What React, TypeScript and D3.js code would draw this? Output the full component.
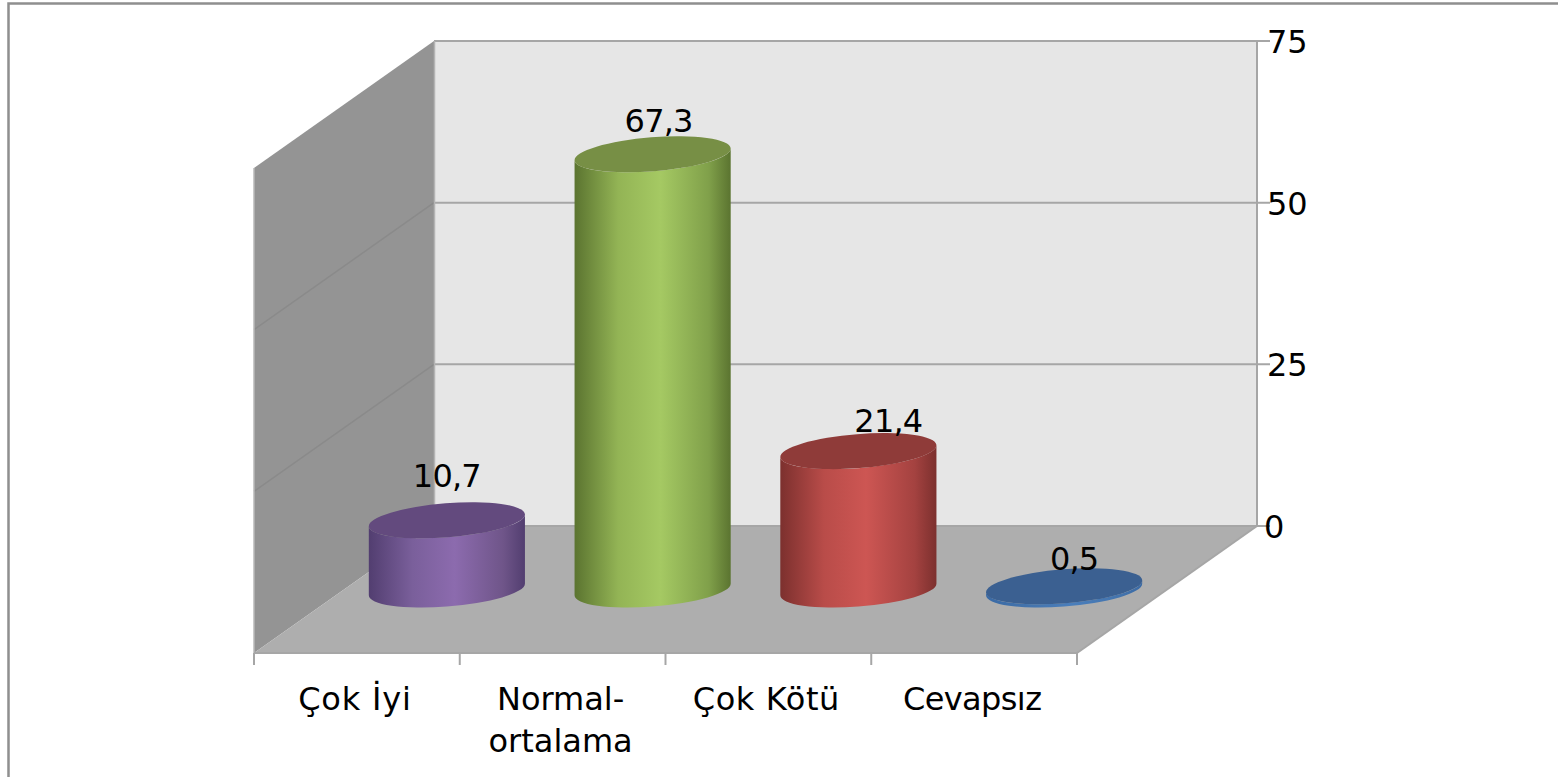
import React from "react";
import * as d3 from "d3";

const categories = ["Çok İyi", "Normal-\nortalama", "Çok Kötü", "Cevapsız"];
const values = [10.7, 67.3, 21.4, 0.5];
const valueLabels = ["10,7", "67,3", "21,4", "0,5"];
const yTicks = [0, 25, 50, 75];
const palettes = [
  { id: "p", top: "#634a7e", edge: "#523e70", side: "#7a5f9b", mid: "#8c6bae", right: "#6f5589" },
  { id: "g", top: "#778f45", edge: "#5b7430", side: "#93b455", mid: "#a5c963", right: "#80a04a" },
  { id: "r", top: "#8f3b39", edge: "#7c302e", side: "#b94c49", mid: "#cd5653", right: "#a44240" },
  { id: "b", top: "#3b6091", edge: "#3a6aa5", side: "#4474ad", mid: "#4a7ebb", right: "#4474ad" },
];

const W = 1558, H = 777;
const backL = 434, backR = 1257, top = 41, base = 526;
const dx = 180, dy = 127;
const font = "'DejaVu Sans', Verdana, sans-serif";
const fs = 32;
const rimA = 78.3, rimB = 17, tilt = 4.5;
// layout nudges for the data labels, relative to each cylinder's centre
const labelNudgeX = [0, 6, 30, 10];
const labelBaseline = [487, 132, 432, 570];
// letter spacing tweaks that mimic the original face's widths
const catLetterSpacing = [0.8, 0, 0.6, -0.6];

const y = d3.scaleLinear().domain([0, 75]).range([base, top]);
const x = d3.scaleBand<string>().domain(categories).range([backL - dx, backR - dx]);

function rimOffsets() {
  const t = (tilt * Math.PI) / 180;
  const c = Math.cos(t), s = Math.sin(t);
  const ex = Math.sqrt(rimA * rimA * c * c + rimB * rimB * s * s);
  const ey = ((rimA * rimA - rimB * rimB) * s * c) / ex;
  return { ex, ey };
}

export default function App() {
  const { ex, ey } = rimOffsets();
  const rot = -tilt;
  const grey = "#a6a6a6";
  const cyBase = base + dy / 2;
  return (
    <svg width={W} height={H} style={{ position: "absolute", left: 0, top: 0 }}>
      <defs>
        {palettes.map((p) => (
          <linearGradient key={p.id} id={`grad-${p.id}`} x1="0" x2="1" y1="0" y2="0">
            <stop offset="0" stopColor={p.edge} />
            <stop offset="0.28" stopColor={p.side} />
            <stop offset="0.55" stopColor={p.mid} />
            <stop offset="0.86" stopColor={p.right} />
            <stop offset="1" stopColor={p.edge} />
          </linearGradient>
        ))}
      </defs>
      <rect x={0} y={0} width={W} height={H} fill="#fff" />
      <path d={`M8.5,${H} L8.5,3.5 L${W},3.5`} fill="none" stroke="#8f8f8f" strokeWidth={2.5} />

      <polygon points={`${backL},${top} ${backR},${top} ${backR},${base} ${backL},${base}`} fill="#e6e6e6" />
      <polygon points={`${backL},${top} ${backL},${base} ${backL - dx},${base + dy} ${backL - dx},${top + dy}`} fill="#949494" />
      <polygon points={`${backL},${base} ${backR},${base} ${backR - dx},${base + dy} ${backL - dx},${base + dy}`} fill="#aeaeae" />

      {yTicks.map((t) => (
        <g key={t}>
          <line x1={backL} x2={backR + 13} y1={y(t)} y2={y(t)} stroke={grey} strokeWidth={2} />
          {t !== 75 && t !== 0 && (
            <line x1={backL} x2={backL - dx} y1={y(t)} y2={y(t) + dy} stroke="#8a8a8a" strokeWidth={1.5} />
          )}
          <text x={t === 0 ? backR + 7 : backR + 10} y={y(t) + 12} textAnchor="start" fontFamily={font} fontSize={fs} fill="#000">{t}</text>
        </g>
      ))}
      <line x1={backL + 0.5} x2={backL + 0.5} y1={top} y2={base} stroke="#b4b4b4" strokeWidth={1.5} />
      <line x1={backR} x2={backR} y1={top} y2={base} stroke={grey} strokeWidth={2} />
      <line x1={backR} x2={backR - dx} y1={base} y2={base + dy} stroke={grey} strokeWidth={2} />
      <line x1={backL - dx} x2={backL - dx} y1={top + dy} y2={base + dy} stroke="#b8b8b8" strokeWidth={1.5} />
      <line x1={backL - dx} x2={backR - dx} y1={base + dy} y2={base + dy} stroke={grey} strokeWidth={2} />
      {[...categories.map((c) => x(c) as number), backR - dx].map((tx, i) => (
        <line key={i} x1={tx} x2={tx} y1={base + dy} y2={base + dy + 12} stroke={grey} strokeWidth={2} />
      ))}

      {categories.map((c, i) => {
        const cx = (x(c) as number) + x.bandwidth() / 2 + dx / 2;
        const h = y(0) - y(values[i]);
        const cyTop = cyBase - h;
        const p = palettes[i];
        const side = `M${cx - ex},${cyTop + ey} L${cx - ex},${cyBase + ey} A${rimA},${rimB} ${rot} 0 0 ${cx + ex},${cyBase - ey} L${cx + ex},${cyTop - ey} A${rimA},${rimB} ${rot} 0 1 ${cx - ex},${cyTop + ey} Z`;
        return (
          <g key={c}>
            <path d={side} fill={`url(#grad-${p.id})`} />
            <ellipse cx={0} cy={0} rx={rimA} ry={rimB} fill={p.top} transform={`translate(${cx},${cyTop}) rotate(${rot})`} />
          </g>
        );
      })}
      {categories.map((c, i) => {
        const cx = (x(c) as number) + x.bandwidth() / 2 + dx / 2;
        return (
          <text key={c} x={cx + labelNudgeX[i]} y={labelBaseline[i]} textAnchor="middle" letterSpacing={-0.8} fontFamily={font} fontSize={fs} fill="#000">
            {valueLabels[i]}
          </text>
        );
      })}
      {categories.map((c, i) => {
        const cx = (x(c) as number) + x.bandwidth() / 2;
        return (
          <text key={c} textAnchor="middle" letterSpacing={catLetterSpacing[i]} fontFamily={font} fontSize={fs} fill="#000">
            {c.split("\n").map((ln, j) => (
              <tspan key={j} x={cx - 2} y={710 + j * 42}>{ln}</tspan>
            ))}
          </text>
        );
      })}
    </svg>
  );
}
